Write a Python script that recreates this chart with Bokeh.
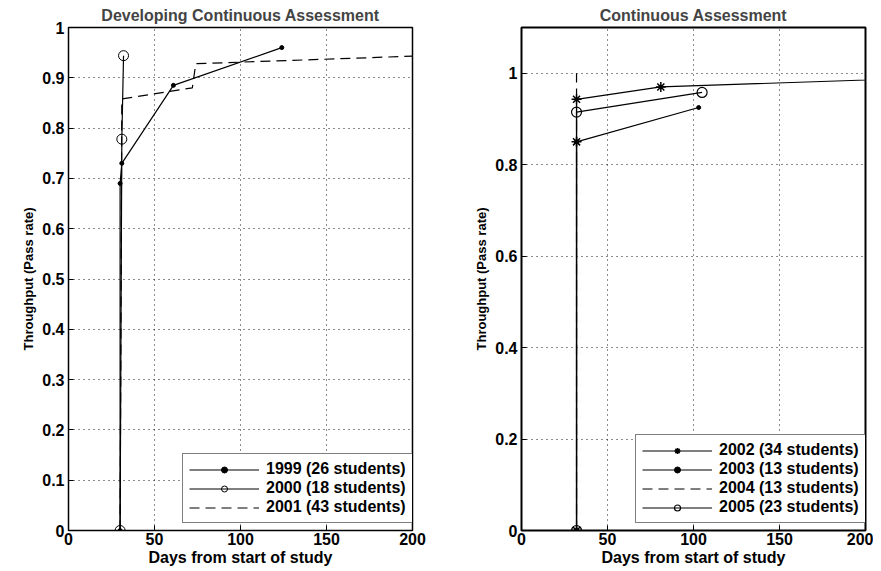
from bokeh.plotting import figure
from bokeh.layouts import row
from bokeh.models import Range1d, FixedTicker, Legend
from bokeh.embed import file_html
from bokeh.resources import INLINE

# ---- Left panel data ----
x1999 = [30, 30, 31, 61, 124]
y1999 = [0, 0.69, 0.73, 0.885, 0.96]
x2000 = [30, 31, 32]
y2000 = [0, 0.778, 0.944]
x2001 = [30, 31, 72, 74, 200]
y2001 = [0, 0.858, 0.88, 0.928, 0.943]

# ---- Right panel data ----
x2002 = [32, 32, 32, 81, 230]
y2002 = [0, 0.85, 0.943, 0.97, 0.989]
x2003 = [32, 32, 103]
y2003 = [0, 0.85, 0.925]
x2004 = [32, 32]
y2004 = [0, 1.0]
x2005 = [32, 32, 105]
y2005 = [0, 0.915, 0.958]

xticks = [0, 50, 100, 150, 200]
yticks_left = [0, 0.1, 0.2, 0.3, 0.4, 0.5, 0.6, 0.7, 0.8, 0.9, 1]
yticks_right = [0, 0.2, 0.4, 0.6, 0.8, 1]

FONT = "Liberation Sans"


def lbl(v):
    return "%g" % v


def style(p, yticks):
    p.title.text_font = FONT
    p.title.text_font_size = "16px"
    p.title.text_font_style = "bold"
    p.title.align = "center"
    p.title.standoff = 7
    p.outline_line_color = "black"
    p.outline_line_alpha = 1
    p.background_fill_color = "white"
    p.border_fill_color = "white"
    for ax in (p.xaxis[0], p.yaxis[0]):
        ax.major_tick_in = 5
        ax.major_tick_out = 0
        ax.minor_tick_line_color = None
        ax.axis_line_color = "black"
        ax.major_tick_line_color = "black"
        ax.major_label_text_font = FONT
        ax.major_label_text_font_style = "bold"
        ax.major_label_text_font_size = "16px"
        ax.major_label_text_color = "black"
        ax.axis_label_text_font = FONT
        ax.axis_label_text_font_style = "bold"
        ax.axis_label_text_color = "black"
        ax.major_label_standoff = 2
        ax.axis_label_standoff = 1
    p.xaxis[0].axis_label_text_font_size = "16px"
    p.yaxis[0].axis_label_text_font_size = "13px"
    p.yaxis[0].major_label_standoff = 4
    p.yaxis[0].axis_label_standoff = 3
    p.xaxis[0].ticker = FixedTicker(ticks=xticks)
    p.yaxis[0].ticker = FixedTicker(ticks=yticks)
    p.yaxis[0].major_label_overrides = {v: lbl(v) for v in yticks}
    p.xaxis[0].major_label_overrides = {v: lbl(v) for v in xticks}
    for g in (p.xgrid[0], p.ygrid[0]):
        g.grid_line_color = "black"
        g.grid_line_dash = "1 4"
        g.grid_line_width = 1
        g.grid_line_alpha = 0.9


# ---------- Left figure ----------
p1 = figure(width=440, height=570, output_backend="svg", toolbar_location=None,
            title="Developing Continuous Assessment",
            x_range=Range1d(0, 200), y_range=Range1d(0, 1),
            x_axis_label="Days from start of study",
            y_axis_label="Throughput (Pass rate)",
            min_border_left=68, min_border_right=28, min_border_top=27, min_border_bottom=40)
style(p1, yticks_left)
p1.outline_line_width = 1.5

l1 = p1.line(x1999, y1999, line_color="black", line_width=1.2)
m1 = p1.scatter(x1999, y1999, marker="circle", size=4, color="black")
l2 = p1.line(x2000, y2000, line_color="black", line_width=1.2)
m2 = p1.scatter(x2000, y2000, marker="circle", size=10, fill_color=None, line_color="black", line_width=1)
l3 = p1.line(x2001, y2001, line_color="black", line_width=1.2, line_dash="10 6")

leg1 = Legend(items=[("1999 (26 students)", [l1, m1]),
                     ("2000 (18 students)", [l2, m2]),
                     ("2001 (43 students)", [l3])],
              location=(114, 7))
p1.add_layout(leg1)

# ---------- Right figure ----------
p2 = figure(width=433, height=570, output_backend="svg", toolbar_location=None,
            title="Continuous Assessment",
            x_range=Range1d(0, 200), y_range=Range1d(0, 1.1),
            x_axis_label="Days from start of study",
            y_axis_label="Throughput (Pass rate)",
            min_border_left=81, min_border_right=8, min_border_top=27, min_border_bottom=40)
style(p2, yticks_right)
p2.outline_line_width = 2

r_l2 = p2.line(x2002, y2002, line_color="black", line_width=1.2)
r_m2 = p2.scatter(x2002, y2002, marker="asterisk", size=10, line_color="black", line_width=1.5)
r_l3 = p2.line(x2003, y2003, line_color="black", line_width=1.2)
r_m3 = p2.scatter(x2003, y2003, marker="circle", size=4, color="black")
r_l4 = p2.line(x2004, y2004, line_color="black", line_width=1.2, line_dash="10 6")
r_l5 = p2.line(x2005, y2005, line_color="black", line_width=1.2)
r_m5 = p2.scatter(x2005, y2005, marker="circle", size=10, fill_color=None, line_color="black", line_width=1.2)

leg2 = Legend(items=[("2002 (34 students)", [r_l2, r_m2]),
                     ("2003 (13 students)", [r_l3, r_m3]),
                     ("2004 (13 students)", [r_l4]),
                     ("2005 (23 students)", [r_l5, r_m5])],
              location=(114, 7))
p2.add_layout(leg2)

for leg in (leg1, leg2):
    leg.label_text_font = FONT
    leg.label_text_font_style = "bold"
    leg.label_text_font_size = "16px"
    leg.label_text_color = "black"
    leg.glyph_width = 70
    leg.glyph_height = 15
    leg.label_height = 15
    leg.spacing = 1
    leg.padding = 6
    leg.margin = 0
    leg.label_standoff = 7
    leg.border_line_color = "black"
    leg.border_line_width = 1.5
    leg.background_fill_color = "white"
    leg.background_fill_alpha = 1

layout = row(p1, p2)
open("out.html", "w").write(file_html(layout, INLINE))
